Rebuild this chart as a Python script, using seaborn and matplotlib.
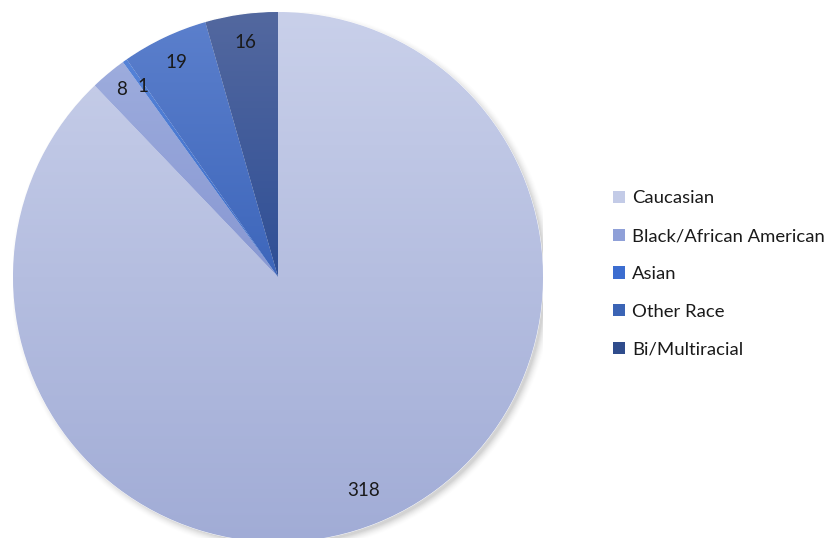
import numpy as np
import matplotlib
matplotlib.use("Agg")
import matplotlib.pyplot as plt
from matplotlib.patches import Patch, Circle
from matplotlib.colors import to_rgb
import seaborn as sns

categories = ["Caucasian", "Black/African American", "Asian", "Other Race", "Bi/Multiracial"]
values = [318, 8, 1, 19, 16]
legend_colors = ["#c3cbe7", "#8fa0d8", "#3c6dd0", "#3b64b5", "#2f4c8c"]
top_colors = ["#c9d0ea", "#9dacdd", "#5583d8", "#5b7fcc", "#53689f"]
bottom_colors = ["#a1acd6", "#8797d2", "#3b6bc8", "#3d66bb", "#2f4f96"]
label_dist = [0.87, 0.92, 0.88, 0.895, 0.895]

sns.set_theme(style="white")
plt.rcParams['font.family'] = ['Lato', 'DejaVu Sans']

fig = plt.figure(figsize=(8.32, 5.38), dpi=100)
W, H = 832, 538
cx, cy, R = 278, 538 - 277, 265
ax = fig.add_axes([(cx - R) / W, (cy - R) / H, 2 * R / W, 2 * R / H])
ax.set_xlim(-1, 1)
ax.set_ylim(-1, 1)
ax.set_aspect("equal")
ax.axis("off")

# soft shadow toward lower right
for i, a in enumerate(np.linspace(0.035, 0.006, 8)):
    ax.add_patch(Circle((0.014, -0.014), 0.995 + i * 0.004, color="black", alpha=a,
                        lw=0, zorder=0))

wedges, _ = ax.pie(values, startangle=90, counterclock=False, radius=1.0,
                   colors=legend_colors, wedgeprops=dict(linewidth=0.6, edgecolor="white"))
for w, tc, bc in zip(wedges, top_colors, bottom_colors):
    verts = w.get_path().vertices
    y0, y1 = verts[:, 1].min(), verts[:, 1].max()
    x0, x1 = verts[:, 0].min(), verts[:, 0].max()
    n = 256
    t = np.linspace(0, 1, n)[:, None]
    c0, c1 = np.array(to_rgb(tc)), np.array(to_rgb(bc))
    img = (c0 * (1 - t) + c1 * t)[:, None, :].repeat(2, axis=1)
    im = ax.imshow(img, extent=[x0, x1, y0, y1], origin="upper", aspect="auto",
                   zorder=w.get_zorder() + 0.1, interpolation="bilinear")
    im.set_clip_path(w)
ax.set_xlim(-1, 1)
ax.set_ylim(-1, 1)

for w, v, d in zip(wedges, values, label_dist):
    ang = np.deg2rad((w.theta1 + w.theta2) / 2)
    ax.text(d * np.cos(ang), d * np.sin(ang), str(v), ha="center", va="center",
            fontsize=13.5, color="#1a1a1a", zorder=10)

handles = [Patch(facecolor=c, edgecolor="none") for c in legend_colors]
fig.legend(handles, categories, loc="center left", bbox_to_anchor=(606 / W, 1 - 274 / H),
           frameon=False, fontsize=13.3, handlelength=0.65, handleheight=0.65,
           handletextpad=0.35, labelspacing=1.18, borderaxespad=0, labelcolor="#1a1a1a")

fig.savefig("out.png", dpi=100)
